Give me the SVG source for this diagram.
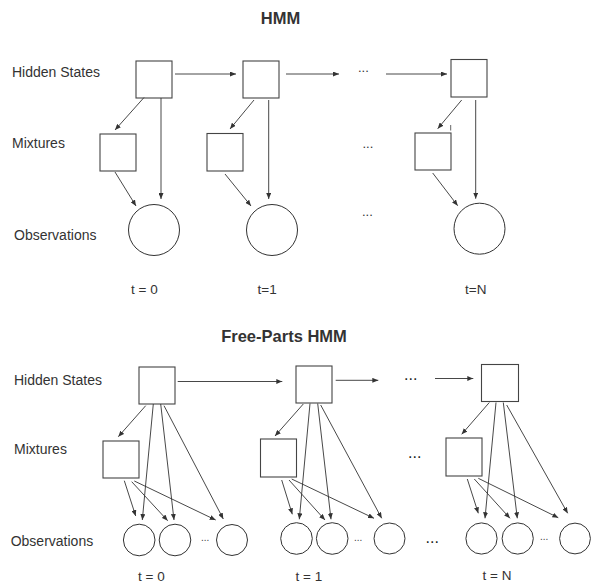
<svg xmlns="http://www.w3.org/2000/svg" width="594" height="583" viewBox="0 0 594 583">
  <defs>
    <marker id="arrow" markerUnits="userSpaceOnUse" markerWidth="6" markerHeight="5" refX="6" refY="2.5" orient="auto">
      <path d="M0,0 L6,2.5 L0,5 z" fill="#333"/>
    </marker>
  </defs>
  <style>
    .box { fill: #fff; stroke: #444; stroke-width: 1.1; }
    .obs { fill: #fff; stroke: #333; stroke-width: 1; }
    .edge { fill: none; stroke: #333; stroke-width: 0.9; marker-end: url(#arrow); }
    .title { font-family: "Liberation Sans", Arial, sans-serif; font-size: 16.5px; font-weight: bold; fill: #333; text-anchor: middle; }
    .label { font-family: "Liberation Sans", Arial, sans-serif; font-size: 14px; fill: #333; }
    .time { font-family: "Liberation Sans", Arial, sans-serif; font-size: 13.5px; fill: #333; }
    .dots { font-family: "Liberation Sans", Arial, sans-serif; font-size: 13px; fill: #333; }
    .dots-s { font-family: "Liberation Sans", Arial, sans-serif; font-size: 10px; fill: #444; }
    .dots-l { font-family: "Liberation Sans", Arial, sans-serif; font-size: 16px; fill: #222; }
  </style>
  <rect width="594" height="583" fill="#fff"/>

  <!-- ===== Standard HMM ===== -->
  <text class="title" x="280.5" y="24">HMM</text>
  <text class="label" x="12" y="77">Hidden States</text>
  <text class="label" x="12" y="148">Mixtures</text>
  <text class="label" x="14" y="240">Observations</text>
  <text class="time" x="131" y="294">t = 0</text>
  <text class="time" x="257.5" y="294">t=1</text>
  <text class="time" x="465" y="294">t=N</text>
  <text class="dots" x="358" y="71.5">...</text>
  <text class="dots" x="362.5" y="148">...</text>
  <text class="dots" x="362" y="216">...</text>

  <g id="hmm-state-0"><rect class="box" x="136" y="61" width="36" height="37"/></g>
  <g id="hmm-state-1"><rect class="box" x="243" y="61" width="36" height="37"/></g>
  <g id="hmm-state-N"><rect class="box" x="451" y="59.5" width="36" height="37.5"/></g>
  <g id="hmm-mix-0"><rect class="box" x="100" y="134" width="36" height="37"/></g>
  <g id="hmm-mix-1"><rect class="box" x="207" y="133.5" width="36" height="37.5"/></g>
  <g id="hmm-mix-N"><rect class="box" x="415" y="133" width="36" height="37"/></g>
  <g id="hmm-obs-0"><circle class="obs" cx="154" cy="230" r="25.5"/></g>
  <g id="hmm-obs-1"><circle class="obs" cx="272" cy="230" r="25.5"/></g>
  <g id="hmm-obs-N"><circle class="obs" cx="479.5" cy="228.7" r="25.5"/></g>

  <g id="hmm-edges">
    <path class="edge" d="M175,74 L236,74"/>
    <path class="edge" d="M286,74 L339,74"/>
    <path class="edge" d="M386,74 L447,74"/>
    <path class="edge" d="M144,97.5 L115,130"/>
    <path class="edge" d="M161,98 L161,199"/>
    <path class="edge" d="M115,172 L136,206"/>
    <path class="edge" d="M254,100 L230,129"/>
    <path class="edge" d="M268.7,100 L268.7,199"/>
    <path class="edge" d="M225,174 L251,206"/>
    <path class="edge" d="M461.7,100 L437.7,128.7"/>
    <path class="edge" d="M475.7,100 L475.7,198.7"/>
    <path class="edge" d="M432.7,173 L457.7,205.7"/>
    <line x1="450.7" y1="125" x2="450.7" y2="130.5" stroke="#555" stroke-width="0.9"/>
  </g>

  <!-- ===== Free-Parts HMM ===== -->
  <text class="title" x="284" y="341.7">Free-Parts HMM</text>
  <text class="label" x="14" y="385">Hidden States</text>
  <text class="label" x="14" y="454">Mixtures</text>
  <text class="label" x="10.7" y="546">Observations</text>
  <text class="time" x="138" y="581">t = 0</text>
  <text class="time" x="295.5" y="581">t = 1</text>
  <text class="time" x="482.5" y="579.5">t = N</text>
  <text class="dots-l" x="404" y="380">...</text>
  <text class="dots-l" x="408" y="458">...</text>
  <text class="dots-l" x="425.5" y="543">...</text>
  <text class="dots-s" x="201" y="541">...</text>
  <text class="dots-s" x="354" y="540.5">...</text>
  <text class="dots-s" x="540" y="540">...</text>

  <g id="fp-state-0"><rect class="box" x="139" y="367" width="36" height="37"/></g>
  <g id="fp-state-1"><rect class="box" x="296" y="366" width="36" height="37"/></g>
  <g id="fp-state-N"><rect class="box" x="481.5" y="364.5" width="37" height="37"/></g>
  <g id="fp-mix-0"><rect class="box" x="103" y="441" width="36" height="37"/></g>
  <g id="fp-mix-1"><rect class="box" x="260.5" y="439" width="36" height="38"/></g>
  <g id="fp-mix-N"><rect class="box" x="446" y="438" width="36" height="38"/></g>

  <g id="fp-obs-0">
    <circle class="obs" cx="139.2" cy="540" r="15.8"/>
    <circle class="obs" cx="175" cy="540" r="15.8"/>
    <circle class="obs" cx="232" cy="540" r="15.5"/>
  </g>
  <g id="fp-obs-1">
    <circle class="obs" cx="296.5" cy="538.5" r="15.8"/>
    <circle class="obs" cx="332.2" cy="538.5" r="15.8"/>
    <circle class="obs" cx="389.5" cy="538.5" r="15.5"/>
  </g>
  <g id="fp-obs-N">
    <circle class="obs" cx="481.5" cy="538.5" r="15.6"/>
    <circle class="obs" cx="517.7" cy="538.5" r="15.6"/>
    <circle class="obs" cx="575" cy="538.5" r="15.4"/>
  </g>

  <g id="fp-edges">
    <path class="edge" d="M177.7,381.5 L282.3,381.5"/>
    <path class="edge" d="M335.7,380.3 L378.3,380.3"/>
    <path class="edge" d="M435,378.5 L473.3,378.5"/>

    <path class="edge" d="M145.7,405.7 L118.3,436.7"/>
    <path class="edge" d="M153.3,404 L142.3,520"/>
    <path class="edge" d="M160.7,404 L174,520"/>
    <path class="edge" d="M164,405.7 L223.3,519"/>
    <path class="edge" d="M124.3,480.7 L135.7,516"/>
    <path class="edge" d="M131.7,481.7 L167.7,520.7"/>
    <path class="edge" d="M134.3,481 L215.7,520"/>

    <path class="edge" d="M303.3,404 L275,436"/>
    <path class="edge" d="M310,403.5 L299.3,519.3"/>
    <path class="edge" d="M317.7,403.5 L331,519.3"/>
    <path class="edge" d="M320.7,405 L381.7,518.3"/>
    <path class="edge" d="M281.7,480 L292.3,514.3"/>
    <path class="edge" d="M289,480 L325,520"/>
    <path class="edge" d="M291.7,479 L374,518.3"/>

    <path class="edge" d="M489.3,402.5 L461.7,434.3"/>
    <path class="edge" d="M496,402.5 L485,518.3"/>
    <path class="edge" d="M503.3,402.5 L517.3,518.3"/>
    <path class="edge" d="M506.7,405 L567.7,513.3"/>
    <path class="edge" d="M467.3,479 L478.3,513.3"/>
    <path class="edge" d="M474.3,479 L510,518.3"/>
    <path class="edge" d="M478.3,478.3 L558.3,517.7"/>
  </g>
</svg>
